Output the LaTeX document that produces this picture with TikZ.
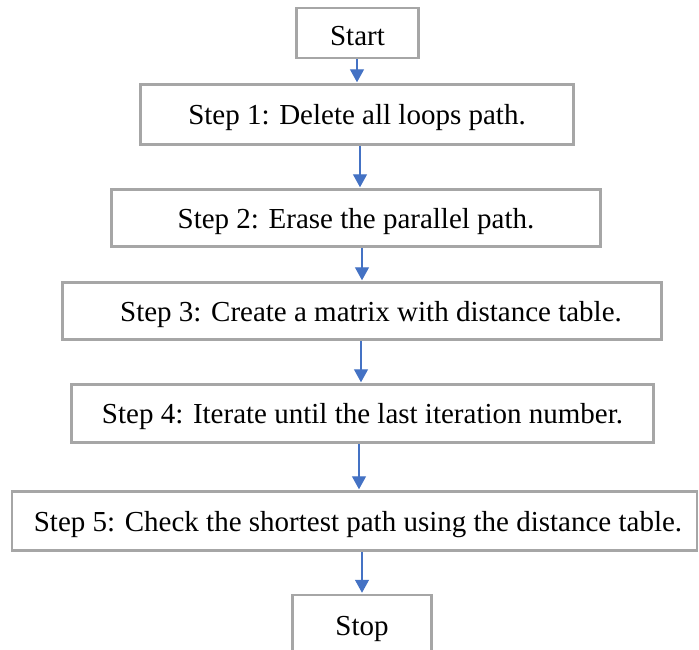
\documentclass[tikz,border=0pt]{standalone}
\usepackage{fontspec}
\setmainfont{Liberation Serif}
\usetikzlibrary{arrows.meta}
\definecolor{boxgray}{HTML}{A6A6A6}
\definecolor{arrblue}{HTML}{4472C4}
\newcommand{\lowtxt}[1]{\raisebox{-3.5pt}[\height][\depth]{#1}}
\tikzset{
  stepbox/.style={draw=boxgray, line width=2.5pt, fill=white, inner sep=0pt,
    font=\fontsize{29}{33}\selectfont, anchor=center},
  flowarrow/.style={draw=arrblue, line width=1.4pt,
    -{Triangle[width=14pt,length=13pt]}, shorten >=1pt}
}
\begin{document}
\begin{tikzpicture}[x=1pt,y=-1pt]
\clip (0,0) rectangle (699,649);
\fill[white] (0,0) rectangle (699,649);
\node[stepbox, minimum width=122pt, minimum height=50pt] (start) at (357.5,33) {\lowtxt{Start}};
\node[stepbox, minimum width=433pt, minimum height=60pt] (s1) at (357,114.5) {\lowtxt{Step 1: Delete all loops path.}};
\node[stepbox, minimum width=489pt, minimum height=57pt] (s2) at (356,218) {\lowtxt{Step 2: Erase the parallel path.}};
\node[stepbox, minimum width=599pt, minimum height=57pt] (s3) at (362,311) {\lowtxt{\hspace*{18pt}Step 3: Create a matrix with distance table.}};
\node[stepbox, minimum width=582pt, minimum height=58pt] (s4) at (362.5,413.5) {\lowtxt{Step 4: Iterate until the last iteration number.}};
\node[stepbox, minimum width=685pt, minimum height=59pt] (s5) at (354.5,521) {\lowtxt{\hspace*{7pt}Step 5: Check the shortest path using the distance table.}};
\node[stepbox, minimum width=139pt, minimum height=60pt] (stop) at (362,625) {\lowtxt{Stop}};
\draw[flowarrow] (start.south -| 357,0) -- (s1.north -| 357,0);
\draw[flowarrow] (s1.south -| 360,0) -- (s2.north -| 360,0);
\draw[flowarrow] (s2.south -| 362,0) -- (s3.north -| 362,0);
\draw[flowarrow] (s3.south -| 361,0) -- (s4.north -| 361,0);
\draw[flowarrow] (s4.south -| 359,0) -- (s5.north -| 359,0);
\draw[flowarrow] (s5.south -| 362,0) -- (stop.north -| 362,0);
\end{tikzpicture}
\end{document}
